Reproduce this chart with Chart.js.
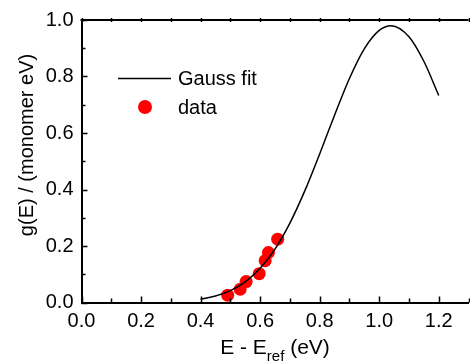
<!DOCTYPE html>
<html>
<head>
<meta charset="utf-8">
<script src="https://cdn.jsdelivr.net/npm/chart.js@4.4.1/dist/chart.umd.min.js"></script>
<style>
  html, body { margin: 0; padding: 0; overflow: hidden; background: #fff; }
  #wrap { width: 475px; height: 363px; }
</style>
</head>
<body>
<div id="wrap"><canvas id="chart" width="475" height="363"></canvas></div>
<script>
// gauss fit curve
var fitE = [0.40, 0.45, 0.50, 0.55, 0.60, 0.65, 0.70, 0.75, 0.80, 0.85, 0.90, 0.95, 1.00, 1.04, 1.10, 1.15, 1.20];
var fitG = [0.012, 0.023, 0.042, 0.073, 0.121, 0.189, 0.281, 0.395, 0.526, 0.663, 0.793, 0.898, 0.963, 0.980, 0.941, 0.854, 0.733];

// measured points
var dataE = [0.491, 0.533, 0.553, 0.597, 0.617, 0.628, 0.659];
var dataG = [0.026, 0.047, 0.074, 0.102, 0.148, 0.177, 0.224];

var xTicks = [0.0, 0.2, 0.4, 0.6, 0.8, 1.0, 1.2];
var yTicks = [0.0, 0.2, 0.4, 0.6, 0.8, 1.0];

var FONT = "'Liberation Sans', Arial, sans-serif";

function toPoints(xs, ys) {
    var pts = [];
    for (var i = 0; i < xs.length; i++) pts.push({x: xs[i], y: ys[i]});
    return pts;
}

// inward ticks, top frame line, legend and axis titles
var decor = {
    id: "decor",
    afterDraw: function(chart) {
        var c = chart.ctx, a = chart.chartArea;
        var xs = chart.scales.x, ys = chart.scales.y;
        c.save();
        c.strokeStyle = "#000";
        c.lineWidth = 2;
        c.beginPath();
        c.moveTo(a.left - 1, a.top);
        c.lineTo(a.right, a.top);
        c.stroke();

        c.lineWidth = 1.5;
        c.beginPath();
        for (var v = 0; v <= 13; v++) {
            var px = Math.round(xs.getPixelForValue(v / 10)) + 0.5;
            var len = (v % 2 == 0) ? 6 : 4;
            c.moveTo(px, a.bottom);
            c.lineTo(px, a.bottom - len);
            c.moveTo(px, a.top - 2);
            c.lineTo(px, a.top + 2);
        }
        for (var w = 0; w <= 10; w++) {
            var py = Math.round(ys.getPixelForValue(w / 10)) + 0.5;
            var l2 = (w % 2 == 0) ? 6 : 4;
            c.moveTo(a.left, py);
            c.lineTo(a.left + l2, py);
        }
        c.stroke();

        // legend
        c.fillStyle = "#000";
        c.font = "20px " + FONT;
        c.textBaseline = "middle";
        c.textAlign = "left";
        c.lineWidth = 1.5;
        c.beginPath();
        c.moveTo(118, 78.5);
        c.lineTo(171, 78.5);
        c.stroke();
        c.fillText(chart.data.datasets[0].label, 178, 79);
        c.fillStyle = "#ff0000";
        c.beginPath();
        c.arc(145, 107, 7, 0, Math.PI * 2);
        c.fill();
        c.fillStyle = "#000";
        c.fillText(chart.data.datasets[1].label, 178, 108);

        // x title with subscript
        c.textBaseline = "alphabetic";
        var p1 = "E - E", p2 = "ref", p3 = " (eV)";
        c.font = "21px " + FONT;
        var w1 = c.measureText(p1).width, w3 = c.measureText(p3).width;
        c.font = "15px " + FONT;
        var w2 = c.measureText(p2).width;
        var x0 = (a.left + a.right) / 2 - (w1 + w2 + w3) / 2;
        c.font = "21px " + FONT;
        c.fillText(p1, x0, 354);
        c.font = "15px " + FONT;
        c.fillText(p2, x0 + w1, 361);
        c.font = "21px " + FONT;
        c.fillText(p3, x0 + w1 + w2, 354);

        // y title
        c.font = "20px " + FONT;
        c.translate(33, 145);
        c.rotate(-Math.PI / 2);
        c.textAlign = "center";
        c.fillText("g(E) / (monomer eV)", 0, 0);
        c.restore();
    }
};

var ctx = document.getElementById("chart");
var chart = new Chart(ctx, {
    type: "scatter",
    data: {
        datasets: [
            {
                label: "Gauss fit",
                data: toPoints(fitE, fitG),
                showLine: true,
                borderColor: "#000",
                borderWidth: 1.5,
                pointRadius: 0,
                cubicInterpolationMode: "monotone",
                order: 0
            },
            {
                label: "data",
                data: toPoints(dataE, dataG),
                backgroundColor: "#ff0000",
                borderWidth: 0,
                pointRadius: 6.5,
                order: 1
            }
        ]
    },
    options: {
        responsive: false,
        animation: false,
        layout: { padding: { top: 16, right: 3, left: 0, bottom: 0 } },
        plugins: { legend: { display: false }, tooltip: { enabled: false } },
        scales: {
            x: {
                type: "linear",
                min: 0, max: 1.3,
                grid: { display: false, drawTicks: false },
                border: { display: true, color: "#000", width: 2 },
                afterBuildTicks: function(s) { s.ticks = xTicks.map(function(v){ return {value: v}; }); },
                afterFit: function(s) { s.height = 60.5; },
                ticks: {
                    color: "#000", padding: 7, maxRotation: 0, autoSkip: false,
                    font: { family: FONT, size: 20 },
                    callback: function(v) { return v.toFixed(1); }
                }
            },
            y: {
                type: "linear",
                min: 0, max: 1.0,
                grid: { display: false, drawTicks: false },
                border: { display: true, color: "#000", width: 2 },
                afterBuildTicks: function(s) { s.ticks = yTicks.map(function(v){ return {value: v}; }); },
                afterFit: function(s) { s.width = 81.5; },
                ticks: {
                    color: "#000", padding: 8, autoSkip: false,
                    font: { family: FONT, size: 20 },
                    callback: function(v) { return v.toFixed(1); }
                }
            }
        }
    },
    plugins: [decor]
});
</script>
</body>
</html>
